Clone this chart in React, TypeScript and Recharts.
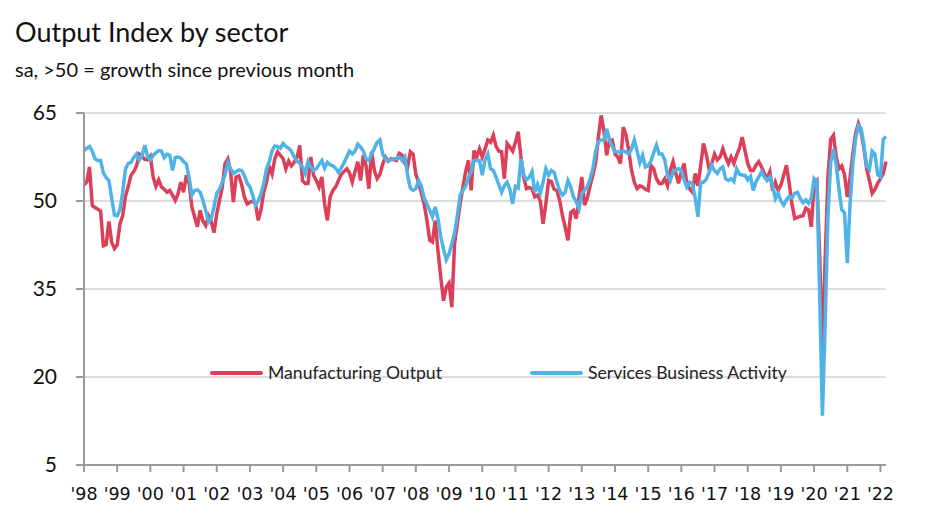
import { LineChart, Line, XAxis, YAxis, CartesianGrid, Legend } from 'recharts';

// monthly, Jan 1998 .. Mar 2022 (index 0 = Jan '98)
const YEAR_LABELS = ['98', '99', '00', '01', '02', '03', '04', '05', '06', '07', '08', '09', '10', '11', '12', '13', '14', '15', '16', '17', '18', '19', '20', '21', '22'];

const manufacturingOutput = [
  52.7, 53.3, 55.8, 49.2, 48.9, 48.6, 48.3, 42.4, 42.6, 46.5, 43.0, 41.9,
  42.5, 46.1, 47.5, 50.8, 52.5, 54.4, 55.0, 56.0, 58.0, 57.6, 57.1, 57.0,
  57.6, 54.1, 52.5, 53.6, 52.4, 52.0, 51.5, 51.8, 51.0, 50.1, 51.2, 53.2,
  51.5, 54.4, 53.0, 49.0, 47.3, 45.6, 48.4, 46.6, 45.8, 47.5, 46.5, 44.6,
  47.8, 50.1, 52.4, 56.4, 57.2, 55.0, 49.8, 54.1, 54.3, 52.8, 50.7, 49.5,
  49.8, 50.0, 49.5, 46.7, 48.5, 51.5, 53.2, 55.8, 54.6, 57.2, 58.4, 57.8,
  57.2, 55.5, 56.8, 56.0, 56.6, 57.4, 59.5, 53.5, 53.0, 53.0, 57.5, 54.4,
  53.5, 52.4, 54.1, 49.5, 46.7, 50.7, 51.8, 52.4, 53.5, 54.5, 55.0, 55.5,
  54.8, 53.2, 55.0, 56.7, 53.5, 57.8, 56.0, 52.1, 58.4, 55.2, 53.8, 54.5,
  56.3, 57.5, 56.8, 57.2, 57.0, 56.9, 58.1, 57.8, 56.4, 55.8, 58.4, 58.0,
  54.5, 53.2, 51.3, 49.5, 46.7, 43.3, 43.0, 46.7, 41.5, 37.0, 33.0, 35.3,
  36.0, 31.9, 42.7, 46.1, 49.5, 52.4, 55.0, 56.9, 51.8, 58.6, 57.5, 58.9,
  57.5, 58.8, 60.4, 60.0, 61.2, 59.3, 58.5, 58.4, 53.8, 59.8, 59.2, 58.5,
  60.0, 61.8, 57.5, 54.0, 52.1, 52.3, 52.1, 50.7, 51.0, 50.0, 46.1, 49.5,
  53.5, 53.3, 52.0, 51.8, 50.1, 47.5, 45.5, 43.3, 48.0, 48.4, 47.0, 50.7,
  54.1, 49.3, 50.5, 52.6, 54.4, 56.5, 60.9, 64.6, 62.0, 57.8, 60.3, 60.4,
  58.0, 57.5, 56.4, 62.6, 61.2, 58.5, 55.2, 53.2, 52.1, 52.6, 52.4, 52.0,
  51.8, 56.1, 55.5, 53.8, 53.0, 53.0, 53.8, 52.6, 55.2, 56.7, 54.7, 53.0,
  55.0, 56.4, 52.8, 52.1, 51.5, 54.7, 52.6, 56.1, 59.8, 58.0, 55.5, 56.4,
  58.0, 57.0, 57.5, 58.9, 57.5, 56.4, 57.5, 56.4, 57.8, 59.0, 60.9, 58.6,
  56.4, 55.2, 55.2, 56.1, 56.7, 55.8, 54.7, 53.8, 55.0, 51.8, 53.2, 51.8,
  52.7, 54.4, 56.1, 53.0, 49.5, 47.0, 47.2, 47.4, 47.5, 48.8, 48.5, 45.6,
  53.0, 53.5, 41.0, 24.0, 40.0, 54.0, 60.5, 61.2, 57.5, 55.5, 56.0, 54.5,
  50.7, 54.0, 58.0, 61.5, 63.2, 61.8, 59.0, 55.5, 53.5, 51.3, 52.0, 53.0,
  53.8, 54.7, 56.7,
];

const servicesActivity = [
  58.6, 59.0, 59.3, 58.5, 57.2, 56.9, 56.9, 54.8, 54.0, 53.5, 50.5, 47.6,
  47.5, 48.5, 51.5, 55.5, 56.4, 56.6, 57.4, 58.0, 57.0, 57.8, 59.5, 57.5,
  57.0, 57.8, 58.2, 58.6, 58.5, 57.4, 58.0, 57.8, 55.2, 57.4, 57.5, 57.3,
  56.7, 56.3, 54.0, 51.0, 51.8, 51.9, 51.5, 50.1, 48.4, 46.4, 47.0, 49.0,
  51.3, 52.0, 53.2, 54.5, 56.5, 55.5, 54.7, 55.0, 55.3, 55.2, 54.3, 53.0,
  52.4, 51.0, 49.3, 50.0, 51.2, 53.0, 55.5, 56.7, 58.6, 59.4, 59.3, 59.0,
  59.8, 59.3, 59.0, 58.5, 57.5, 56.8, 56.4, 55.8, 54.7, 56.7, 55.8, 55.2,
  55.5, 56.2, 56.9, 55.6, 56.6, 56.2, 56.0, 55.6, 54.9, 55.6, 56.5, 57.5,
  58.5, 58.0, 58.5, 59.7, 59.2, 58.5, 57.2, 56.9, 58.0, 59.0, 60.0, 60.4,
  58.0, 57.1, 56.9, 57.0, 57.2, 57.2, 57.5, 56.9, 57.5, 54.4, 52.2, 51.8,
  52.1, 53.5, 52.5, 50.5, 49.5, 48.4, 47.3, 49.0, 47.0, 43.9, 41.8, 40.0,
  41.0, 42.7, 44.5, 47.5, 51.0, 51.8, 52.5, 54.0, 55.0, 56.9, 56.9, 56.9,
  54.4, 57.0, 58.0, 55.5, 55.2, 54.1, 52.8, 51.5, 52.6, 53.2, 52.0, 49.5,
  52.5, 52.2, 57.2, 54.5, 53.6, 54.0, 55.0, 51.5, 52.8, 51.3, 53.2, 55.5,
  54.4, 55.2, 54.9, 53.2, 51.8, 51.0, 51.5, 53.5, 52.4, 50.7, 49.8, 48.7,
  51.3, 51.8, 52.4, 53.8, 55.5, 58.5, 60.1, 60.4, 60.4, 62.3, 60.4, 59.3,
  58.4, 58.4, 58.2, 58.6, 58.3, 58.0, 58.9, 60.4, 58.5, 56.5, 57.8, 55.8,
  56.0, 56.8, 58.2, 59.5, 58.0, 58.0, 57.0, 54.4, 53.5, 55.0, 55.3, 55.5,
  55.2, 53.6, 52.4, 53.2, 52.9, 50.5, 47.3, 53.2, 53.2, 53.7, 54.8, 56.1,
  55.2, 54.7, 55.5, 55.8, 53.8, 53.5, 53.8, 53.3, 55.5, 54.6, 54.4, 54.4,
  53.6, 54.2, 51.8, 53.3, 54.1, 55.0, 54.1, 53.5, 54.1, 52.7, 50.4, 51.3,
  50.0, 49.3, 50.2, 50.8, 50.5, 51.3, 51.5, 50.4, 49.7, 50.2, 49.6, 50.5,
  53.8, 53.3, 34.5, 13.4, 29.0, 47.5, 56.5, 58.8, 56.1, 52.0, 48.5, 48.0,
  39.4, 49.5, 56.3, 60.5, 62.9, 62.4, 59.6, 56.0, 55.4, 58.5, 58.0, 54.5,
  54.1, 60.5, 61.0,
];

const Y_TICKS = [5, 20, 35, 50, 65];
const X_TICKS = YEAR_LABELS.map((_, i) => i * 12);

const RED = '#dc3f58';
const BLUE = '#4fb3e8';
const AXIS = '#9a9a9a';

const data = manufacturingOutput.map((v, i) => ({
  m: i,
  mfg: v,
  svc: servicesActivity[i],
}));

// zero-height box so the legend does not take room from the plot
function LegendContent({ payload }: any) {
  const lefts = [210, 530];
  return (
    <div style={{ position: 'relative', height: 0 }}>
      {(payload || []).map((entry: any, i: number) => (
        <div
          key={entry.value}
          style={{
            position: 'absolute',
            left: lefts[i],
            top: 0,
            display: 'flex',
            alignItems: 'center',
            whiteSpace: 'nowrap',
            fontFamily: 'Lato',
            fontSize: 17.6,
            lineHeight: '22px',
            color: '#222',
          }}
        >
          <span style={{ display: 'inline-block', width: 53, height: 4, background: entry.color, borderRadius: 2, marginRight: 5 }} />
          {entry.value}
        </div>
      ))}
    </div>
  );
}

export default function App() {
  return (
    <div style={{ position: 'relative', width: 936, height: 519, background: '#fff' }}>
      <style>{`body{margin:0}`}</style>
      <div style={{ position: 'absolute', left: 15, top: 15, fontFamily: 'Lato', fontSize: 27, color: '#111', whiteSpace: 'nowrap' }}>
        Output Index by sector
      </div>
      <div style={{ position: 'absolute', left: 15, top: 57, fontFamily: 'Lato', fontSize: 20, color: '#111', whiteSpace: 'nowrap' }}>
        sa, &gt;50 = growth since previous month
      </div>
      <LineChart
        width={936}
        height={519}
        data={data}
        margin={{ top: 113, right: 50, bottom: 24, left: 24 }}
        style={{ position: 'absolute', left: 0, top: 0 }}
      >
        <CartesianGrid vertical={false} stroke="#dcdcdc" strokeWidth={2} />
        <XAxis
          dataKey="m"
          type="number"
          domain={[0, 290]}
          ticks={X_TICKS}
          interval={0}
          tickFormatter={(v: number) => "'" + YEAR_LABELS[v / 12]}
          height={30}
          stroke={AXIS}
          strokeWidth={2}
          tickSize={7}
          tickMargin={16}
          tick={{ fill: '#111', fontSize: 17.5, fontFamily: 'DejaVu Sans' }}
        />
        <YAxis
          type="number"
          domain={[5, 65]}
          ticks={Y_TICKS}
          interval={0}
          width={60}
          stroke={AXIS}
          strokeWidth={2}
          tickSize={8}
          tickMargin={19}
          tick={{ fill: '#111', fontSize: 21, fontFamily: 'Lato' }}
        />
        <Legend
          content={<LegendContent />}
          wrapperStyle={{ position: 'absolute', left: 0, top: 362, width: 936, height: 0 }}
        />
        <Line
          type="linear"
          dataKey="mfg"
          name="Manufacturing Output"
          stroke={RED}
          strokeWidth={3.5}
          dot={false}
          isAnimationActive={false}
        />
        <Line
          type="linear"
          dataKey="svc"
          name="Services Business Activity"
          stroke={BLUE}
          strokeWidth={3.5}
          dot={false}
          isAnimationActive={false}
        />
      </LineChart>
    </div>
  );
}
